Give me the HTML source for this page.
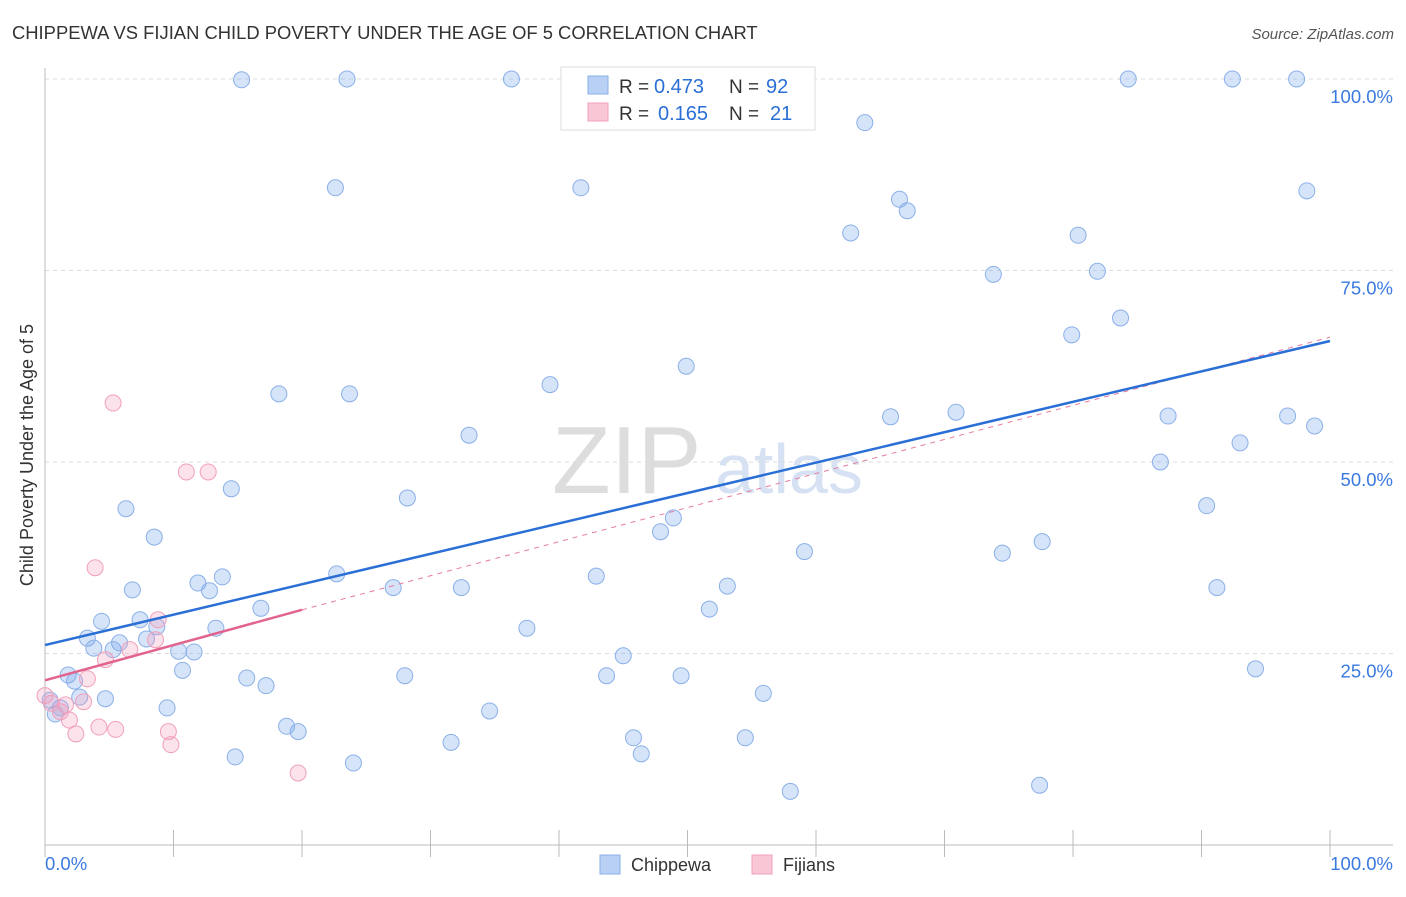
<!DOCTYPE html>
<html><head><meta charset="utf-8"><style>
body{margin:0;background:#fff;font-family:"Liberation Sans",sans-serif;}
svg text{font-family:"Liberation Sans",sans-serif;}
</style></head><body>
<svg id="chart" width="1406" height="892">
<text x="12" y="39" font-size="18.4" fill="#333">CHIPPEWA VS FIJIAN CHILD POVERTY UNDER THE AGE OF 5 CORRELATION CHART</text>
<text x="1394" y="39" font-size="15" fill="#555" text-anchor="end" font-style="italic">Source: ZipAtlas.com</text>
<text x="552" y="493" font-size="96" fill="#ddd" font-family="Liberation Serif">ZIP</text>
<text x="715" y="493" font-size="70" fill="#d6e2f3">atlas</text>
<g id="grid"></g>
<g id="axes"></g>
<g id="marks"></g>
<text transform="translate(33,455) rotate(-90)" font-size="18" fill="#333" text-anchor="middle">Child Poverty Under the Age of 5</text>
<g>
<rect x="561" y="67" width="254" height="63" fill="#fff" stroke="#ddd"/>
<rect x="588" y="76" width="20" height="18" fill="#b8d0f4" stroke="#8ab0e8"/>
<rect x="588" y="103" width="20" height="18" fill="#f9c6d6" stroke="#f0a0bc"/>
<text x="619" y="93" font-size="19" fill="#333">R =</text>
<text x="654" y="93" font-size="20" fill="#2a6fd6">0.473</text>
<text x="729" y="93" font-size="19" fill="#333">N =</text>
<text x="766" y="93" font-size="20" fill="#2a6fd6">92</text>
<text x="619" y="120" font-size="19" fill="#333">R =</text>
<text x="658" y="120" font-size="20" fill="#2a6fd6">0.165</text>
<text x="729" y="120" font-size="19" fill="#333">N =</text>
<text x="770" y="120" font-size="20" fill="#2a6fd6">21</text>
</g>
<g>
<rect x="600" y="855" width="20" height="19" fill="#b8d0f4" stroke="#8ab0e8"/>
<text x="631" y="871" font-size="18" fill="#333">Chippewa</text>
<rect x="752" y="855" width="20" height="19" fill="#f9c6d6" stroke="#f0a0bc"/>
<text x="783" y="871" font-size="18" fill="#333">Fijians</text>
</g>
</svg>
<script>
const yTicks=[25,50,75,100];
const yTickLabels=["25.0%","50.0%","75.0%","100.0%"];
const xTicks=[0,10,20,30,40,50,60,70,80,90,100];
const chippewaX=[15.3,23.5,36.3,84.3,92.4,97.4,63.8,22.6,41.7,98.2,66.5,67.1,62.7,80.4,73.8,81.9,79.9,83.7,49.9,39.3,18.2,23.7,65.8,70.9,87.4,96.7,98.8,33.0,93.0,86.8,14.5,28.2,6.3,90.4,8.5,48.9,47.9,59.1,74.5,77.6,6.8,11.9,12.8,13.8,22.7,27.1,32.4,42.9,53.1,91.2,16.8,51.7,4.4,7.4,8.7,13.3,37.5,3.3,3.8,5.8,7.9,5.3,10.4,11.6,45.0,10.7,1.8,2.3,15.7,17.2,28.0,43.7,49.5,94.2,4.7,2.7,9.5,55.9,34.6,0.8,1.2,0.4,18.8,19.7,31.6,45.8,54.5,14.8,46.4,24.0,58.0,77.4];
const chippewaY=[99.9,100,100,100,100,100,94.3,85.8,85.8,85.4,84.3,82.8,79.9,79.6,74.5,74.9,66.6,68.8,62.5,60.1,58.9,58.9,55.9,56.5,56.0,56.0,54.7,53.5,52.5,50.0,46.5,45.3,43.9,44.3,40.2,42.7,40.9,38.3,38.1,39.6,33.3,34.2,33.2,35.0,35.4,33.6,33.6,35.1,33.8,33.6,30.9,30.8,29.2,29.4,28.5,28.3,28.3,27.0,25.7,26.4,26.9,25.5,25.3,25.2,24.7,22.8,22.2,21.4,21.8,20.8,22.1,22.1,22.1,23.0,19.1,19.3,17.9,19.8,17.5,17.1,17.9,18.9,15.5,14.8,13.4,14.0,14.0,11.5,11.9,10.7,7.0,7.8];
const fijiansX=[5.3,11.0,12.7,3.9,8.8,6.6,4.7,3.3,8.6,0,0.5,1.2,1.9,3.0,2.4,4.2,5.5,9.6,9.8,19.7,1.6];
const fijiansY=[57.7,48.7,48.7,36.2,29.4,25.5,24.2,21.7,26.8,19.5,18.5,17.4,16.3,18.7,14.5,15.4,15.1,14.8,13.1,9.4,18.3];
const chippewaTrend=[26.1,65.8];
const fijiansTrend=[21.5,30.7,66.3];
const NS="http://www.w3.org/2000/svg";
const X=v=>45+v*12.85, Y=v=>845-v*7.66;
function mk(p,tag,a){const e=document.createElementNS(NS,tag);for(const k in a)e.setAttribute(k,a[k]);document.getElementById(p).appendChild(e);return e;}
yTicks.forEach((t,i)=>{
 const g=mk('grid','line',{x1:45,x2:1393,y1:Y(t),y2:Y(t),stroke:'#ddd','stroke-dasharray':'4,4'});
 
 
 const l=mk('axes','text',{x:1393,y:Y(t)+24,'font-size':18.5,fill:'#3a7ae0','text-anchor':'end'});l.textContent=yTickLabels[i];
 
 
});
const ax=mk('axes','path',{d:'M45,68V845H1393',stroke:'#bbb',fill:'none'});


xTicks.forEach(t=>{const e=mk('axes','line',{x1:X(t),x2:X(t),y1:830,y2:857,stroke:'#bbb'});
 
 });
let a=mk('axes','text',{x:45,y:870,'font-size':18.5,fill:'#3a7ae0'});a.textContent='0.0%';


a=mk('axes','text',{x:1393,y:870,'font-size':18.5,fill:'#3a7ae0','text-anchor':'end'});a.textContent='100.0%';


chippewaX.forEach((v,i)=>{const c=mk('marks','circle',{cx:X(v),cy:Y(chippewaY[i]),r:8,fill:'rgba(120,165,235,0.3)',stroke:'#8ab0e8'});
 
 });
fijiansX.forEach((v,i)=>{const c=mk('marks','circle',{cx:X(v),cy:Y(fijiansY[i]),r:8,fill:'rgba(245,160,190,0.3)',stroke:'#f0a0bc'});
 
 });
let t=mk('marks','line',{x1:X(20),y1:Y(fijiansTrend[1]),x2:X(100),y2:Y(fijiansTrend[2]),stroke:'#e87aa0','stroke-dasharray':'5,5','stroke-width':1});


t=mk('marks','line',{x1:X(0),y1:Y(chippewaTrend[0]),x2:X(100),y2:Y(chippewaTrend[1]),stroke:'#2a6fd6','stroke-width':2.5});


t=mk('marks','line',{x1:X(0),y1:Y(fijiansTrend[0]),x2:X(20),y2:Y(fijiansTrend[1]),stroke:'#e2648e','stroke-width':2.5});


</script>
</body></html>
